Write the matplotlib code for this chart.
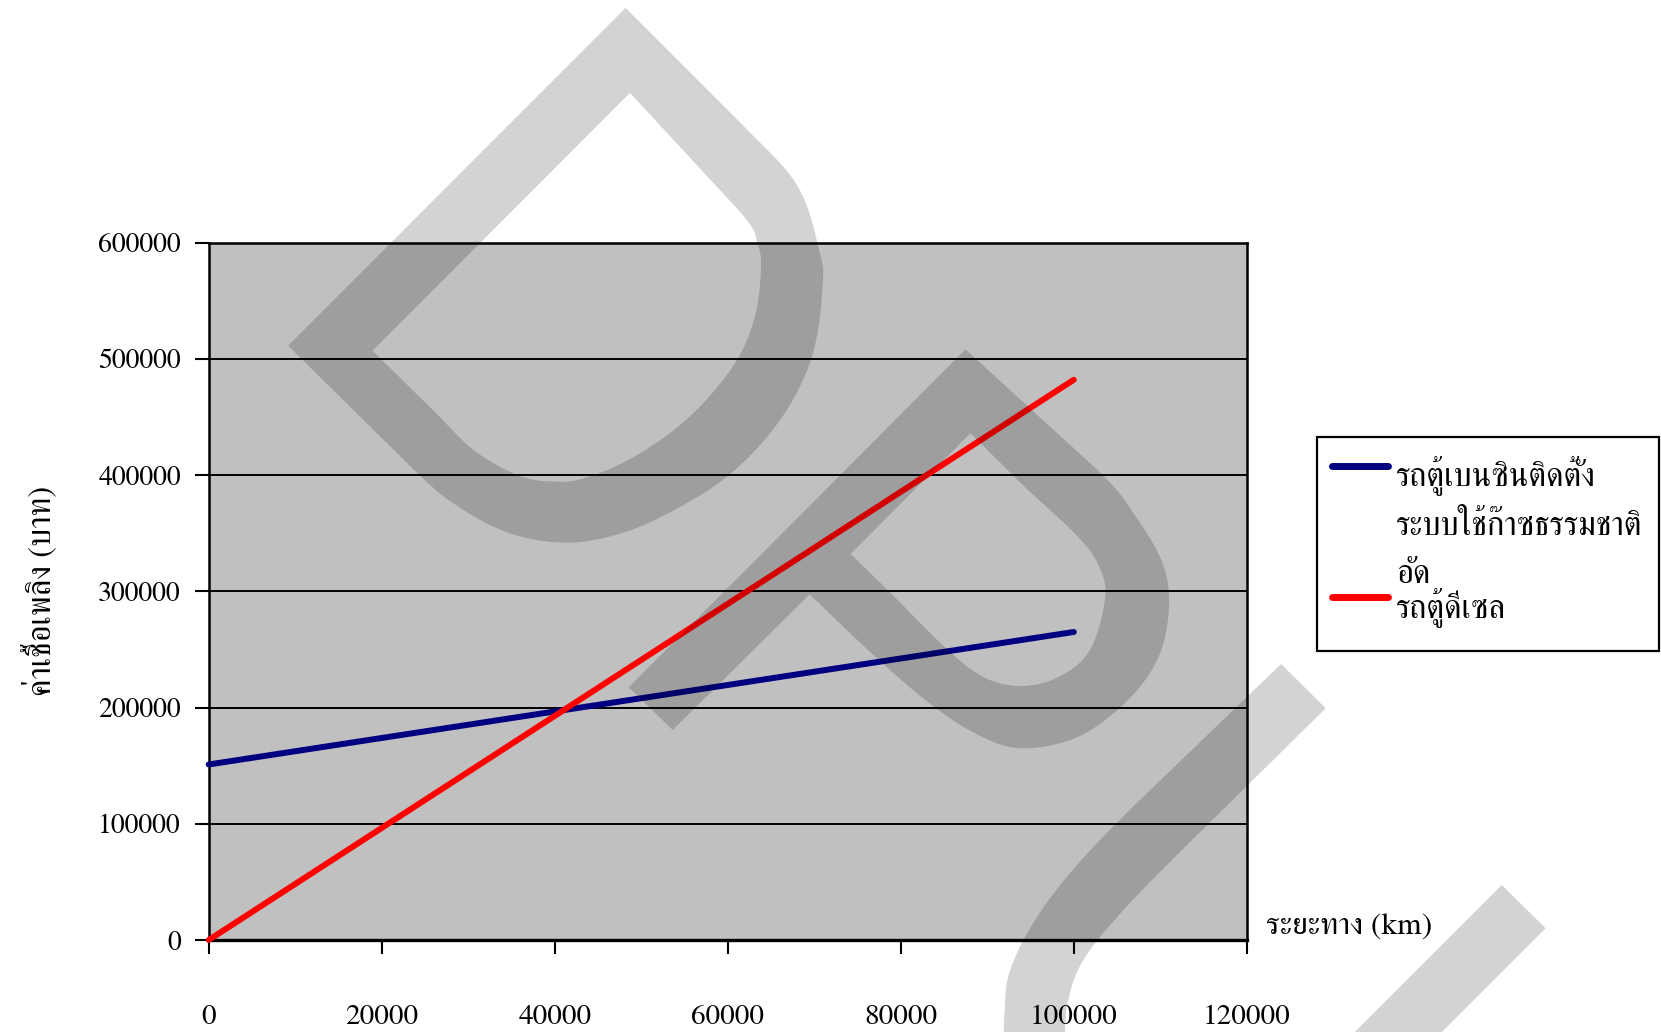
import numpy as np
import matplotlib
matplotlib.use("Agg")
import matplotlib.pyplot as plt
from matplotlib.path import Path
from matplotlib.patches import PathPatch, Rectangle
from matplotlib.lines import Line2D

plt.rcParams['font.family'] = ['FreeSerif', 'Liberation Serif', 'DejaVu Serif']

# ---------------- data ----------------
distance_km = [0, 100000]
cng_van_cost = [151000, 265000]      # รถตู้เบนซินติดตั้งระบบใช้ก๊าซธรรมชาติอัด
diesel_van_cost = [0, 482000]        # รถตู้ดีเซล
x_ticks = [0, 20000, 40000, 60000, 80000, 100000, 120000]
y_ticks = [0, 100000, 200000, 300000, 400000, 500000, 600000]
series_names = ["รถตู้เบนซินติดตั้ง", "ระบบใช้ก๊าซธรรมชาติ", "อัด", "รถตู้ดีเซล"]
x_label = "ระยะทาง (km)"
y_label = "ค่าเชื้อเพลิง (บาท)"
navy = "#000080"
red = "#ff0000"

W, H = 1661, 1032
fig = plt.figure(figsize=(W / 100, H / 100), dpi=100)
ax = fig.add_axes([208.7 / W, 1 - 940 / H, (1246.8 - 208.7) / W, (940 - 242.6) / H])
ax.set_facecolor("#c0c0c0")
ax.set_xlim(0, 120000)
ax.set_ylim(0, 600000)
ax.set_axisbelow(True)
ax.yaxis.grid(True, color="black", linewidth=1.4)
ax.xaxis.grid(False)

ax.plot(distance_km, cng_van_cost, color=navy, linewidth=4.3,
        solid_capstyle="round", zorder=3, clip_on=False)
ax.plot(distance_km, diesel_van_cost, color=red, linewidth=4.3,
        solid_capstyle="round", zorder=3, clip_on=False)

ax.set_xticks(x_ticks)
ax.set_yticks(y_ticks)
ax.set_xticklabels([str(v) for v in x_ticks])
ax.set_yticklabels([str(v) for v in y_ticks])
ax.tick_params(axis="x", direction="out", length=10, width=1.5, pad=37,
               labelsize=21, colors="black")
ax.tick_params(axis="y", direction="out", length=10, width=1.5, pad=10,
               labelsize=20, colors="black")
for s in ax.spines.values():
    s.set_linewidth(1.8)
    s.set_color("black")
ax.spines["bottom"].set_linewidth(2.4)

ax.set_xlabel(x_label, fontsize=22.5, ha="left", va="center")
ax.xaxis.set_label_coords(1.0185, 0.017)
ax.set_ylabel(y_label, fontsize=23.5, va="center", ha="center")
ax.yaxis.set_label_coords(-0.163, 0.5)

# ---------------- legend (manual, wrapped label) ----------------
fig.add_artist(Rectangle((1317 / W, 1 - 651 / H), (1659 - 1317) / W, (651 - 436.5) / H,
                         transform=fig.transFigure, facecolor="white",
                         edgecolor="black", linewidth=1.6, zorder=5))
fig.add_artist(Line2D([1332 / W, 1388 / W], [1 - 466 / H] * 2, color=navy, linewidth=5,
                      solid_capstyle="round", transform=fig.transFigure, zorder=6))
fig.add_artist(Line2D([1332 / W, 1388 / W], [1 - 596.5 / H] * 2, color=red, linewidth=5,
                      solid_capstyle="round", transform=fig.transFigure, zorder=6))
for txt, base in zip(series_names, [485, 535, 583, 617]):
    fig.text(1396 / W, 1 - base / H, txt, fontsize=23.5, ha="left", va="baseline", zorder=7)

# ---------------- watermark (multiplied grey logo) ----------------
def catmull(pts, pre=None, post=None, n=12):
    pts = np.asarray(pts, float)
    first = np.asarray(pre, float) if pre is not None else pts[0]
    last = np.asarray(post, float) if post is not None else pts[-1]
    P = np.vstack([first, pts, last])
    out = []
    for i in range(1, len(P) - 2):
        p0, p1, p2, p3 = P[i - 1], P[i], P[i + 1], P[i + 2]
        for t in np.linspace(0, 1, n, endpoint=False):
            t2, t3 = t * t, t * t * t
            out.append(0.5 * ((2 * p1) + (-p0 + p2) * t + (2 * p0 - 5 * p1 + 4 * p2 - p3) * t2
                              + (-p0 + 3 * p1 - 3 * p2 + p3) * t3))
    out.append(pts[-1])
    return out


def ring(spec):
    """spec items: corner tuples, or dicts {'c': pts, 'pre': bool, 'post': bool}."""
    pts = []
    m = len(spec)
    for k, item in enumerate(spec):
        if isinstance(item, dict):
            prev_item = spec[k - 1]
            next_item = spec[(k + 1) % m]
            pre = prev_item if (item.get("pre", True) and not isinstance(prev_item, dict)) else None
            post = next_item if (item.get("post", True) and not isinstance(next_item, dict)) else None
            pts.extend(catmull(item["c"], pre, post))
        else:
            pts.append(item)
    a = np.array(pts, float)
    a[:, 0] = a[:, 0] / W
    a[:, 1] = 1 - a[:, 1] / H
    return a


def closed(a):
    return Path(np.vstack([a, a[:1]]), closed=True)


A_out = ring([(625.6, 7.9),
              {"c": [(742.7, 125), (797.3, 185.7), (819.1, 250), (822.7, 285.7), (811.8, 357.1),
                     (779.1, 421.4), (724.5, 478.6), (651.8, 521.4), (597.3, 539.3),
                     (553.6, 542.1), (506.4, 532.1), (459.1, 507.1), (415.5, 471.4)]},
              (288.2, 345.7)])
A_in = ring([(630, 92.9),
             {"c": [(739.1, 210.7), (757.3, 242.9), (760.9, 271.4), (753.6, 321.4),
                    (731.8, 367.9), (688.2, 417.9), (633.6, 457.1), (582.7, 478.6), (550, 481.4),
                    (517.3, 475), (473.6, 450), (433.6, 410.7)]},
             (372.5, 350.7)])
B_out = ring([(965.5, 349.3), (628.7, 687.3), (672.7, 730),
              {"c": [(809.7, 594.3), (868, 650), (925.3, 700), (975, 733.3), (1021, 748.3),
                     (1078.4, 736.7), (1128, 700), (1158.7, 656.7), (1169, 606.7),
                     (1162.6, 563.3), (1135.8, 516.7), (1097.5, 470)], "pre": False}])
B_in = ring([(970.4, 433.3),
             {"c": [(850.7, 554), (890.9, 593.3), (944.4, 646.7), (982.7, 676.7), (1021, 686),
                    (1059.2, 676.7), (1089.9, 650), (1105.2, 596.7), (1097.5, 563.3),
                    (1074.6, 533.3), (1021, 483.3)], "pre": False}])
C_out = ring([(1281.1, 664), (1325.7, 708.3),
              {"c": [(1171.8, 860), (1108.7, 926.7), (1079.6, 966.7), (1067.5, 1003.3),
                     (1065, 1032), (1065, 1045)]},
              {"c": [(1004, 1045), (1004.4, 1013.3), (1009.2, 973.3), (1031, 926.7),
                     (1069.9, 873.3), (1133, 806.7)]}])
D_out = ring([(1501.9, 885), (1545.6, 928.3), (1428.9, 1045), (1341.9, 1045)])

logo = Path.make_compound_path(closed(A_out), closed(A_in[::-1]),
                               closed(B_out), closed(B_in[::-1]),
                               closed(C_out), closed(D_out))
fig.add_artist(PathPatch(logo, facecolor="black", edgecolor="none", alpha=0.173,
                         transform=fig.transFigure, zorder=50))

fig.savefig("out.png", dpi=100)
